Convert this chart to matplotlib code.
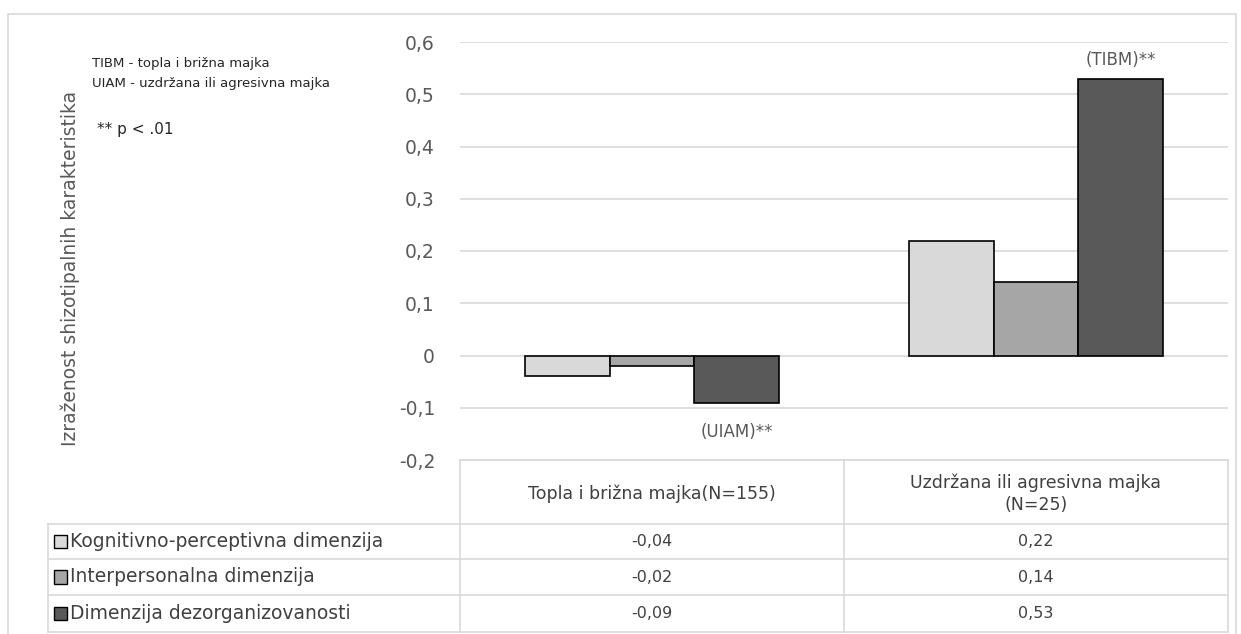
import matplotlib
matplotlib.use("Agg")
import matplotlib.pyplot as plt
from matplotlib.lines import Line2D
from matplotlib.patches import Rectangle
import numpy as np

plt.rcParams['font.family'] = ['DejaVu Sans']

categories = ["Topla i brižna majka(N=155)", "Uzdržana ili agresivna majka\n(N=25)"]
series_names = ["Kognitivno-perceptivna dimenzija", "Interpersonalna dimenzija", "Dimenzija dezorganizovanosti"]
values = {
    "Kognitivno-perceptivna dimenzija": [-0.04, 0.22],
    "Interpersonalna dimenzija": [-0.02, 0.14],
    "Dimenzija dezorganizovanosti": [-0.09, 0.53],
}
value_labels = {
    "Kognitivno-perceptivna dimenzija": ["-0,04", "0,22"],
    "Interpersonalna dimenzija": ["-0,02", "0,14"],
    "Dimenzija dezorganizovanosti": ["-0,09", "0,53"],
}
colors = ["#d9d9d9", "#a6a6a6", "#595959"]
yticks = [-0.2, -0.1, 0, 0.1, 0.2, 0.3, 0.4, 0.5, 0.6]
ytick_labels = ["-0,2", "-0,1", "0", "0,1", "0,2", "0,3", "0,4", "0,5", "0,6"]

W, H = 1241, 634
fig = plt.figure(figsize=(W/100, H/100), dpi=100)

def fx(px): return px / W
def fy(py): return 1 - py / H

# outer border
fig.add_artist(Rectangle((fx(8), fy(640)), fx(1236) - fx(8), fy(14) - fy(640),
                         fill=False, edgecolor="#d9d9d9", lw=1.2, transform=fig.transFigure))

L, R, T, B = 460, 1228, 42, 460
ax = fig.add_axes([fx(L), fy(B), fx(R) - fx(L), fy(T) - fy(B)])
ax.set_xlim(-0.5, 1.5)
ax.set_ylim(-0.2, 0.6)
for s in ax.spines.values():
    s.set_visible(False)
ax.set_yticks(yticks)
ax.set_yticklabels(ytick_labels, color="#595959", fontsize=13.5)
ax.tick_params(axis='y', length=0, pad=18)
ax.set_xticks([])
ax.yaxis.grid(True, color="#d9d9d9", lw=1.2)
ax.set_axisbelow(True)

bw = 0.221
x = np.arange(len(categories))
for i, name in enumerate(series_names):
    ax.bar(x + (i - 1) * bw, values[name], width=bw, color=colors[i],
           edgecolor="black", lw=1.2, zorder=3)

ax.text(1 + bw, values[series_names[2]][1] + 0.018, "(TIBM)**", ha="center", va="bottom",
        fontsize=12, color="#595959")
ax.text(0 + bw, values[series_names[2]][0] - 0.04, "(UIAM)**", ha="center", va="top",
        fontsize=12, color="#595959")

# y label
fig.text(fx(70), fy(268), "Izraženost shizotipalnih karakteristika", rotation=90,
         ha="center", va="center", fontsize=13.5, color="#595959")

# notes
fig.text(fx(92), fy(63), "TIBM - topla i brižna majka", fontsize=9.5, color="#262626", va="center")
fig.text(fx(92), fy(84), "UIAM - uzdržana ili agresivna majka", fontsize=9.5, color="#262626", va="center")
fig.text(fx(97), fy(129), "** p < .01", fontsize=11, color="#262626", va="center")

# table
lc = "#d9d9d9"
def hline(y, x0, x1):
    fig.add_artist(Line2D([fx(x0), fx(x1)], [fy(y), fy(y)], color=lc, lw=1.2, transform=fig.transFigure))
def vline(x0, y0, y1):
    fig.add_artist(Line2D([fx(x0), fx(x0)], [fy(y0), fy(y1)], color=lc, lw=1.2, transform=fig.transFigure))

col_x = [48, 460, 844, 1228]
row_y = [460, 524, 559, 595, 632]
hline(row_y[0], col_x[1], col_x[3])
for y in row_y[1:]:
    hline(y, col_x[0], col_x[3])
vline(col_x[0], row_y[1], row_y[4])
for cx in col_x[1:]:
    vline(cx, row_y[0], row_y[4])

for j, cat in enumerate(categories):
    cxm = (col_x[j + 1] + col_x[j + 2]) / 2
    fig.text(fx(cxm), fy((row_y[0] + row_y[1]) / 2 + 2), cat, ha="center", va="center",
             fontsize=12.5, color="#404040", linespacing=1.25)

for i, name in enumerate(series_names):
    ym = (row_y[i + 1] + row_y[i + 2]) / 2
    fig.add_artist(Rectangle((fx(54), fy(ym + 6.5)), fx(13), fy(ym - 6.5) - fy(ym + 6.5),
                             facecolor=colors[i], edgecolor="black", lw=1,
                             transform=fig.transFigure))
    fig.text(fx(70), fy(ym), name, ha="left", va="center", fontsize=13.5, color="#404040")
    for j in range(len(categories)):
        cxm = (col_x[j + 1] + col_x[j + 2]) / 2
        fig.text(fx(cxm), fy(ym), value_labels[name][j], ha="center", va="center",
                 fontsize=11.5, color="#404040")

fig.savefig("out.png", dpi=100)
